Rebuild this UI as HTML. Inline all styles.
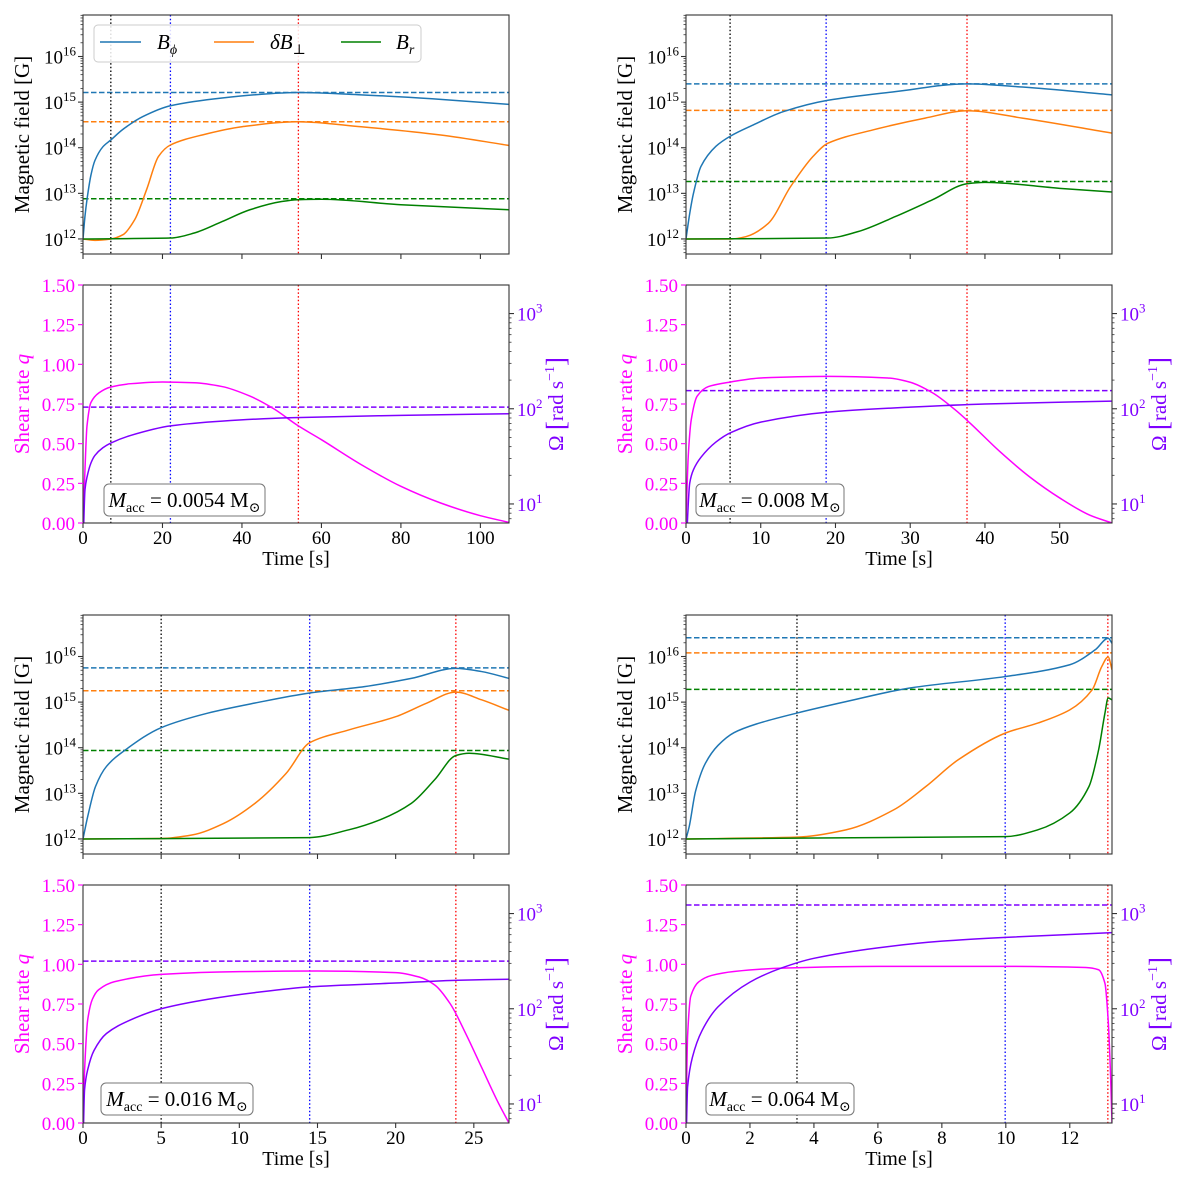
<!DOCTYPE html>
<html><head><meta charset="utf-8">
<style>
html,body{margin:0;padding:0;background:#fff;}
svg, svg text, svg tspan{font-family:"Liberation Serif","Times New Roman","DejaVu Serif",serif !important;}
</style></head>
<body>
<svg id="fig" width="1200" height="1182" viewBox="0 0 1200 1182" xmlns="http://www.w3.org/2000/svg"></svg>
<script>
// ---------- data ----------
const p1_xticks=[0,20,40,60,80,100];
const p1_vlines=[7,22,54.2];
const p1_hlines=[15.21,14.57,12.88];
const p1_bphi_t=[0,0.5,1,2,3,5,7,10,15,22,35,50,54,70,90,107.2];
const p1_bphi_v=[12,12.5,12.86,13.4,13.72,14.02,14.17,14.4,14.68,14.92,15.09,15.2,15.21,15.16,15.06,14.95];
const p1_db_t=[0,3,7,10,13,16,19,22,30,40,54,70,90,107.2];
const p1_db_v=[12,11.97,12,12.09,12.42,13.08,13.81,14.06,14.28,14.46,14.57,14.46,14.28,14.05];
const p1_br_t=[0,22,28,35,42,50,54,60,80,107.2];
const p1_br_v=[12,12.02,12.13,12.38,12.64,12.82,12.86,12.87,12.75,12.64];
const p1_q_t=[0,0.5,1,2,4,7,12,20,28,35,42,48,54,60,70,80,90,100,107.2];
const p1_q_v=[0,0.34,0.61,0.76,0.82,0.857,0.878,0.889,0.884,0.86,0.8,0.72,0.615,0.525,0.368,0.231,0.126,0.046,0.004];
const p1_om_t=[0,0.5,1,2,3,5,7,12,22,35,52,80,107.2];
const p1_om_v=[0.5,1.15,1.28,1.43,1.51,1.59,1.64,1.72,1.82,1.87,1.906,1.93,1.948];
const p1_omdash=2.017;

const p2_xticks=[0,10,20,30,40,50];
const p2_vlines=[5.9,18.75,37.6];
const p2_hlines=[15.40,14.82,13.26];
const p2_bphi_t=[0,0.5,1,2,4,6,9,13,19,28,37.6,45,57];
const p2_bphi_v=[12,12.56,13.0,13.59,14.03,14.26,14.5,14.79,15.04,15.23,15.4,15.33,15.16];
const p2_db_t=[0,6,8,11,14,17,19,25,32,37.6,45,57];
const p2_db_v=[12,12,12.05,12.34,13.15,13.81,14.1,14.39,14.65,14.81,14.65,14.32];
const p2_br_t=[0,19,23,28,33,37.6,40,50,57];
const p2_br_v=[12,12.02,12.16,12.49,12.86,13.21,13.24,13.11,13.03];
const p2_q_t=[0,0.3,0.7,1.5,3,6,10,19,27,30,33,36,38,42,46,50,54,57];
const p2_q_v=[0,0.42,0.65,0.8,0.86,0.889,0.914,0.924,0.914,0.887,0.82,0.714,0.63,0.45,0.29,0.158,0.05,0];
const p2_om_t=[0,0.5,1,2,4,6,10,19,30,40,57];
const p2_om_v=[0.5,1.22,1.36,1.49,1.65,1.75,1.86,1.965,2.017,2.05,2.08];
const p2_omdash=2.19;

const p3_xticks=[0,5,10,15,20,25];
const p3_vlines=[5,14.5,23.85];
const p3_hlines=[15.75,15.25,13.94];
const p3_bphi_t=[0,0.3,0.8,1.5,2.7,5,8,11,14.5,18,21,23.85,25.5,27.25];
const p3_bphi_v=[12,12.49,13.15,13.59,13.95,14.44,14.76,14.98,15.2,15.34,15.52,15.74,15.67,15.52];
const p3_db_t=[0,5,7,9,11,13,14.5,17,20,22,23.85,25.5,27.25];
const p3_db_v=[12,12.01,12.09,12.34,12.78,13.44,14.11,14.39,14.68,14.98,15.22,15.05,14.82];
const p3_br_t=[0,14.5,17,19,21,22.5,23.85,24.7,27.25];
const p3_br_v=[12,12.03,12.2,12.42,12.78,13.3,13.83,13.88,13.75];
const p3_q_t=[0,0.1,0.3,0.6,1,2,5,10,15,20,21.5,22.5,23.5,24.5,25.5,26.5,27.25];
const p3_q_v=[0,0.33,0.65,0.78,0.84,0.89,0.937,0.954,0.958,0.948,0.92,0.87,0.75,0.56,0.35,0.14,0];
const p3_om_t=[0,0.1,0.3,0.7,1.5,3,5,8,11,14.5,20,24,27.25];
const p3_om_v=[0.5,1.15,1.36,1.56,1.74,1.88,2.0,2.1,2.17,2.23,2.27,2.3,2.31];
const p3_omdash=2.5;

const p4_xticks=[0,2,4,6,8,10,12];
const p4_vlines=[3.47,9.98,13.19];
const p4_hlines=[16.41,16.08,15.28];
const p4_bphi_t=[0,0.1,0.3,0.6,1,1.5,2.2,3.47,5,7,9.98,12,12.8,13.2,13.32];
const p4_bphi_v=[12,12.27,13.05,13.65,14.05,14.33,14.52,14.76,15.01,15.31,15.56,15.82,16.15,16.4,16.29];
const p4_db_t=[0,3.47,5,6.5,7.5,8.5,9.98,11,12,12.7,13.0,13.2,13.32];
const p4_db_v=[12,12.04,12.2,12.64,13.15,13.73,14.32,14.54,14.83,15.27,15.78,15.99,15.71];
const p4_br_t=[0,9.98,11,12,12.6,12.9,13.1,13.2,13.32];
const p4_br_v=[12,12.05,12.2,12.57,13.15,13.95,14.76,15.09,15.05];
const p4_q_t=[0,0.05,0.15,0.4,0.8,1.5,3,6,10,12.5,12.9,13.1,13.2,13.27,13.32];
const p4_q_v=[0,0.55,0.8,0.89,0.93,0.955,0.976,0.987,0.987,0.98,0.966,0.88,0.65,0.33,0];
const p4_om_t=[0,0.05,0.2,0.5,1,2,3,4,6,8,10,13.32];
const p4_om_v=[0.5,1.18,1.49,1.77,2.02,2.28,2.43,2.53,2.64,2.71,2.75,2.8];
const p4_omdash=3.09;

const macc_labels=["0.0054","0.008","0.016","0.064"];
const xmax_values=[107.2,57,27.25,13.32];

// ---------- drawing ----------
const NS="http://www.w3.org/2000/svg";
const FONTSTYLE="font-family:'Liberation Serif','Times New Roman','DejaVu Serif',serif";
const svg=document.getElementById('fig');
function el(tag,attrs,parent,text){
  const e=document.createElementNS(NS,tag);
  if(tag==='text') e.setAttribute('style',FONTSTYLE);
  for(const k in attrs) e.setAttribute(k,attrs[k]);
  if(text!==undefined) e.textContent=text;
  (parent||svg).appendChild(e);
  return e;
}
const C_BPHI="#1f77b4",C_DB="#ff7f0e",C_BR="#008000",C_Q="#ff00ff",C_OM="#7f00ff";
const MAGLOG=[11.67,16.91], OMLOG=[0.8,3.3];

function monoPath(xs,ys){
  const n=xs.length; if(n<2) return "";
  const d=[],m=new Array(n);
  for(let i=0;i<n-1;i++) d.push((ys[i+1]-ys[i])/((xs[i+1]-xs[i])||1e-9));
  m[0]=d[0]; m[n-1]=d[n-2];
  for(let i=1;i<n-1;i++){ if(d[i-1]*d[i]<=0) m[i]=0; else { m[i]=2/(1/d[i-1]+1/d[i]); } }
  let s="M"+xs[0].toFixed(2)+","+ys[0].toFixed(2);
  for(let i=0;i<n-1;i++){
    const h=xs[i+1]-xs[i];
    s+=" C"+(xs[i]+h/3).toFixed(2)+","+(ys[i]+m[i]*h/3).toFixed(2)+" "+(xs[i+1]-h/3).toFixed(2)+","+(ys[i+1]-m[i+1]*h/3).toFixed(2)+" "+xs[i+1].toFixed(2)+","+ys[i+1].toFixed(2);
  }
  return s;
}
function pow10Label(g,x,y,exp,anchor,color){
  const t=el('text',{x:x,y:y,'font-size':19,fill:color,'text-anchor':anchor},g);
  
  
  el('tspan',{},t,"10");
  el('tspan',{'font-size':13,dy:-8},t,String(exp));
}
let clipId=0;
function makeClip(x0,y0,x1,y1){
  clipId++;
  const cp=el('clipPath',{id:'c'+clipId});
  el('rect',{x:x0,y:y0,width:x1-x0,height:y1-y0},cp);
  return 'url(#c'+clipId+')';
}
function vlinesDraw(g,xs,vl,y0,y1){
  const cols=["#000","#0000ff","#ff0000"];
  vl.forEach((v,i)=>{
    const l=el('line',{x1:xs(v),x2:xs(v),y1:y0,y2:y1,stroke:cols[i],'stroke-width':1.3,'stroke-dasharray':'1.5,2.2'},g);
    
    
  });
}

function magPanel(idx,x0,x1,y0,y1,xmax,xticks,vl,hl,series,legend){
  const g=el('g',{});
  
  
  const xs=t=>x0+(t/xmax)*(x1-x0);
  const ys=v=>y1-(v-MAGLOG[0])/(MAGLOG[1]-MAGLOG[0])*(y1-y0);
  const clip=makeClip(x0,y0,x1,y1);
  const pg=el('g',{'clip-path':clip},g);
  const hc=[C_BPHI,C_DB,C_BR];
  hl.forEach((v,i)=>{
    const l=el('line',{x1:x0,x2:x1,y1:ys(v),y2:ys(v),stroke:hc[i],'stroke-width':1.5,'stroke-dasharray':'5.5,2.5'},pg);
    
    
  });
  vlinesDraw(pg,xs,vl,y0,y1);
  const names=['b-phi-line','delta-b-perp-line','b-r-line'];
  series.forEach((s,i)=>{
    const p=el('path',{d:monoPath(s[0].map(xs),s[1].map(ys)),fill:'none',stroke:hc[i],'stroke-width':1.5},pg);
    
    
  });
  el('rect',{x:x0,y:y0,width:x1-x0,height:y1-y0,fill:'none',stroke:'#333','stroke-width':1.1},g);
  for(let d=11;d<=16;d++){
    for(let k=1;k<=9;k++){
      const v=d+Math.log10(k);
      if(v<MAGLOG[0]||v>MAGLOG[1]) continue;
      const y=ys(v);
      el('line',{x1:x0,x2:x0-(k===1?5:2.5),y1:y,y2:y,stroke:'#333','stroke-width':k===1?1.1:0.8},g);
      if(k===1) pow10Label(g,x0-7,y+7,d,'end','#000');
    }
  }
  xticks.forEach(t=>{el('line',{x1:xs(t),x2:xs(t),y1:y1,y2:y1+5,stroke:'#333','stroke-width':1.1},g);});
  const yl=el('text',{x:0,y:0,'font-size':21,'text-anchor':'middle',transform:`translate(${x0-54},${(y0+y1)/2}) rotate(-90)`},g,'Magnetic field [G]');
  
  
  if(legend){
    const lg=el('g',{},g);
    
    
    el('rect',{x:94,y:25,width:327,height:37,rx:4,fill:'#fff','fill-opacity':0.85,stroke:'#ccc','stroke-width':1},lg);
    const ents=[[100,141,157,C_BPHI,'B','ϕ',''],[214,254,270,C_DB,'B','⊥','δ'],[341,381,396,C_BR,'B','r','']];
    ents.forEach(e=>{
      const eg=el('g',{},lg);
      
      
      el('line',{x1:e[0],x2:e[1],y1:42,y2:42,stroke:e[3],'stroke-width':1.5},eg);
      const t=el('text',{x:e[2],y:49,'font-size':21,'font-style':'italic'},eg);
      if(e[6]) el('tspan',{},t,e[6]);
      el('tspan',{},t,e[4]);
      el('tspan',{'font-size':14,dy:5,'font-style':e[5]==='⊥'?'normal':'italic'},t,e[5]);
    });
  }
}

function shearPanel(idx,x0,x1,y0,y1,xmax,xticks,vl,qt,qv,ot,ov,odash,macc,box){
  const g=el('g',{});
  
  
  const xs=t=>x0+(t/xmax)*(x1-x0);
  const yq=v=>y1-(v/1.5)*(y1-y0);
  const yo=v=>y1-(v-OMLOG[0])/(OMLOG[1]-OMLOG[0])*(y1-y0);
  const clip=makeClip(x0,y0,x1,y1);
  const pg=el('g',{'clip-path':clip},g);
  vlinesDraw(pg,xs,vl,y0,y1);
  const dl=el('line',{x1:x0,x2:x1,y1:yo(odash),y2:yo(odash),stroke:C_OM,'stroke-width':1.5,'stroke-dasharray':'5.5,2.5'},pg);
  
  
  const qp=el('path',{d:monoPath(qt.map(xs),qv.map(yq)),fill:'none',stroke:C_Q,'stroke-width':1.5},pg);
  
  
  const op=el('path',{d:monoPath(ot.map(xs),ov.map(yo)),fill:'none',stroke:C_OM,'stroke-width':1.5},pg);
  
  
  el('rect',{x:x0,y:y0,width:x1-x0,height:y1-y0,fill:'none',stroke:'#333','stroke-width':1.1},g);
  [0,0.25,0.5,0.75,1,1.25,1.5].forEach(v=>{
    const y=yq(v);
    el('line',{x1:x0,x2:x0-5,y1:y,y2:y,stroke:C_Q,'stroke-width':1.1},g);
    const t=el('text',{x:x0-8,y:y+7,'font-size':19,fill:C_Q,'text-anchor':'end'},g,v.toFixed(2));
    
    
  });
  for(let d=0;d<=3;d++){
    for(let k=1;k<=9;k++){
      const v=d+Math.log10(k);
      if(v<OMLOG[0]||v>OMLOG[1]) continue;
      const y=yo(v);
      el('line',{x1:x1,x2:x1+(k===1?5:2.5),y1:y,y2:y,stroke:'#333','stroke-width':k===1?1.1:0.8},g);
      if(k===1) pow10Label(g,x1+8,y+7,d,'start',C_OM);
    }
  }
  xticks.forEach(t=>{
    el('line',{x1:xs(t),x2:xs(t),y1:y1,y2:y1+5,stroke:'#333','stroke-width':1.1},g);
    const tl=el('text',{x:xs(t),y:y1+21,'font-size':19,'text-anchor':'middle'},g,String(t));
    
    
  });
  const xl=el('text',{x:(x0+x1)/2,y:y1+42,'font-size':20,'text-anchor':'middle'},g,'Time [s]');
  
  
  const ql=el('text',{x:0,y:0,'font-size':21,fill:C_Q,'text-anchor':'middle',transform:`translate(${x0-54},${(y0+y1)/2}) rotate(-90)`},g);
  
  
  el('tspan',{},ql,'Shear rate ');
  el('tspan',{'font-style':'italic'},ql,'q');
  const ol=el('text',{x:0,y:0,'font-size':21,fill:C_OM,'text-anchor':'middle',transform:`translate(${x1+54},${(y0+y1)/2}) rotate(-90)`},g);
  
  
  el('tspan',{},ol,'Ω ');
  el('tspan',{'font-size':27,dy:2},ol,'[');
  el('tspan',{dy:-2},ol,'rad s');
  el('tspan',{'font-size':14,dy:-9},ol,'−1');
  el('tspan',{'font-size':27,dy:11},ol,']');
  const bg=el('g',{},g);
  
  
  el('rect',{x:box[0],y:box[1],width:box[2],height:box[3],rx:5,fill:'#fff',stroke:'#777','stroke-width':1},bg);
  const at=el('text',{x:box[0]+box[2]/2,y:box[1]+box[3]/2+7,'font-size':21,'text-anchor':'middle'},bg);
  el('tspan',{'font-style':'italic'},at,'M');
  el('tspan',{'font-size':14,dy:5},at,'acc');
  el('tspan',{dy:-5},at,' = '+macc+' M');
  el('tspan',{'font-size':14,dy:5},at,'⊙');
}

const cols=[[83,509],[686,1112]];
const rows=[[15,254,285,523],[615,854,885,1123]];
const P=[
 {xt:p1_xticks,vl:p1_vlines,hl:p1_hlines,s:[[p1_bphi_t,p1_bphi_v],[p1_db_t,p1_db_v],[p1_br_t,p1_br_v]],qt:p1_q_t,qv:p1_q_v,ot:p1_om_t,ov:p1_om_v,od:p1_omdash,box:[104,484,161,32]},
 {xt:p2_xticks,vl:p2_vlines,hl:p2_hlines,s:[[p2_bphi_t,p2_bphi_v],[p2_db_t,p2_db_v],[p2_br_t,p2_br_v]],qt:p2_q_t,qv:p2_q_v,ot:p2_om_t,ov:p2_om_v,od:p2_omdash,box:[696,484,148,32]},
 {xt:p3_xticks,vl:p3_vlines,hl:p3_hlines,s:[[p3_bphi_t,p3_bphi_v],[p3_db_t,p3_db_v],[p3_br_t,p3_br_v]],qt:p3_q_t,qv:p3_q_v,ot:p3_om_t,ov:p3_om_v,od:p3_omdash,box:[101,1083,152,32]},
 {xt:p4_xticks,vl:p4_vlines,hl:p4_hlines,s:[[p4_bphi_t,p4_bphi_v],[p4_db_t,p4_db_v],[p4_br_t,p4_br_v]],qt:p4_q_t,qv:p4_q_v,ot:p4_om_t,ov:p4_om_v,od:p4_omdash,box:[706,1083,148,32]}
];
P.forEach((p,i)=>{
  const c=cols[i%2], r=rows[Math.floor(i/2)];
  magPanel(i,c[0],c[1],r[0],r[1],xmax_values[i],p.xt,p.vl,p.hl,p.s,i===0);
  shearPanel(i,c[0],c[1],r[2],r[3],xmax_values[i],p.xt,p.vl,p.qt,p.qv,p.ot,p.ov,p.od,macc_labels[i],p.box);
});
</script>
</body></html>
